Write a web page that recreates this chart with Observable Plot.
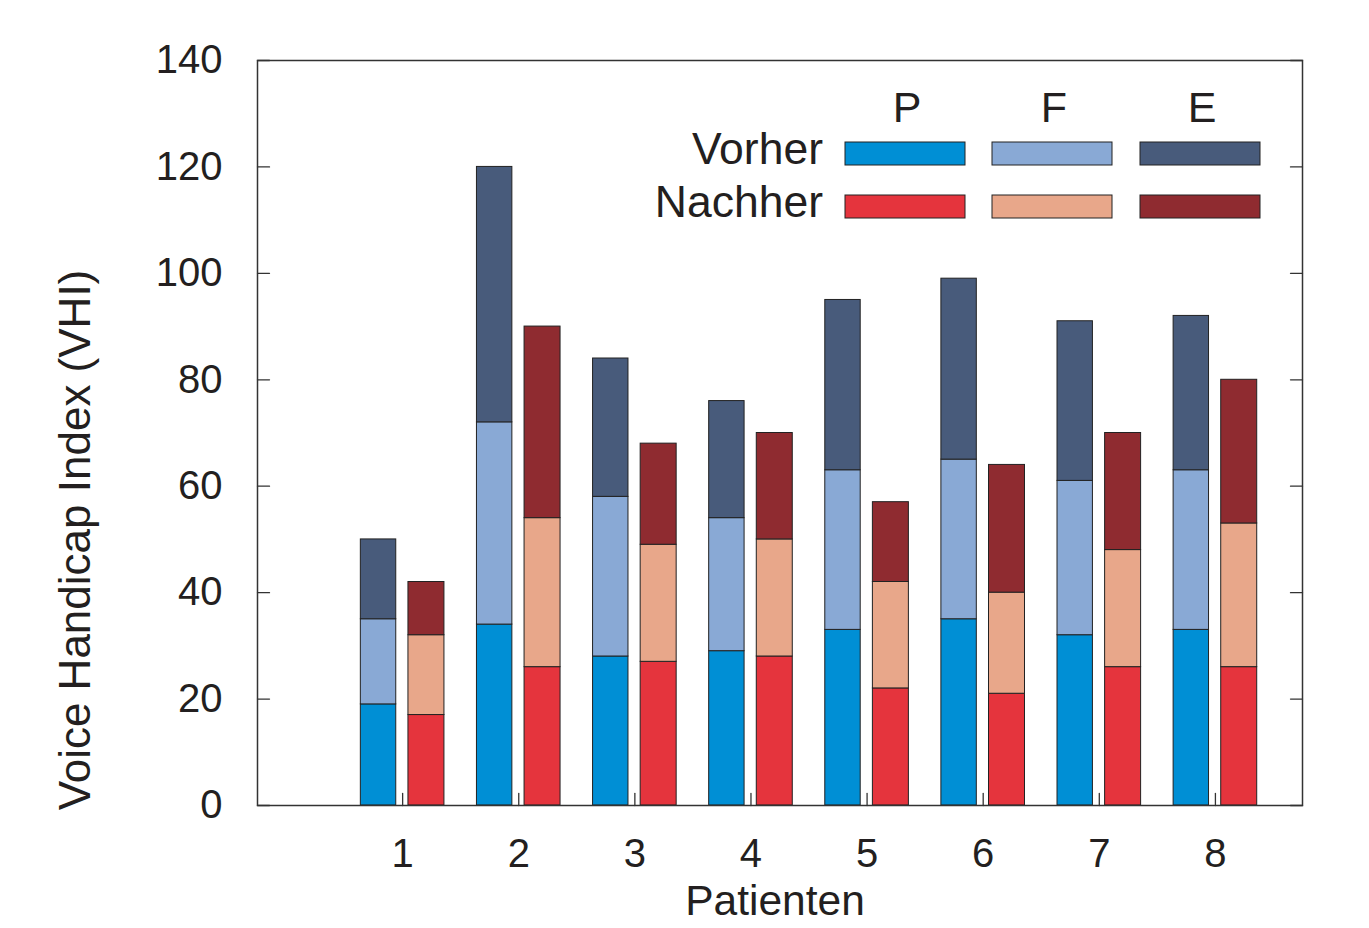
<!DOCTYPE html>
<html>
<head>
<meta charset="utf-8">
<script src="https://cdn.jsdelivr.net/npm/d3@7"></script>
<script src="https://cdn.jsdelivr.net/npm/@observablehq/plot@0.6"></script>
<style>
  body { margin: 0; background: #fff; }
  #chart { width: 1369px; height: 928px; overflow: hidden; }
</style>
</head>
<body>
<div id="chart"></div>
<script>
// ---- data ----
const patients = [1, 2, 3, 4, 5, 6, 7, 8];
const phases = ["Vorher", "Nachher"];
const components = ["P", "F", "E"];
const yTicks = [0, 20, 40, 60, 80, 100, 120, 140];

// component values (not cumulative)
const vorherP = [19, 34, 28, 29, 33, 35, 32, 33];
const vorherF = [16, 38, 30, 25, 30, 30, 29, 30];
const vorherE = [15, 48, 26, 22, 32, 34, 30, 29];
const nachherP = [17, 26, 27, 28, 22, 21, 26, 26];
const nachherF = [15, 28, 22, 22, 20, 19, 22, 27];
const nachherE = [10, 36, 19, 20, 15, 24, 22, 27];

const colorKeys = ["Vorher P", "Vorher F", "Vorher E", "Nachher P", "Nachher F", "Nachher E"];
const colorRange = ["#008fd5", "#89a9d5", "#485b7b", "#e5343d", "#e8a78a", "#8f2b30"];

const xTitle = "Patienten";
const yTitle = "Voice Handicap Index (VHI)";

// ---- build table ----
const values = {
  Vorher: { P: vorherP, F: vorherF, E: vorherE },
  Nachher: { P: nachherP, F: nachherF, E: nachherE }
};
const barOffset = { Vorher: [-0.36, -0.055], Nachher: [0.05, 0.36] };
const rows = [];
for (const phase of phases) {
  patients.forEach((p, i) => {
    let cum = 0;
    for (const c of components) {
      const v = values[phase][c][i];
      rows.push({
        patient: p, phase, comp: c, key: phase + " " + c,
        x1: p + barOffset[phase][0], x2: p + barOffset[phase][1],
        y1: cum, y2: cum + v
      });
      cum += v;
    }
  });
}

const font = "'Liberation Sans', Arial, Helvetica, sans-serif";
const ink = "#231f20";
const xDomain = [-0.25, 8.75];
const tickShape = { draw(context, l) { context.moveTo(0, 0); context.lineTo(0, -l); } };

const plot = Plot.plot({
  width: 1369,
  height: 928,
  marginLeft: 257,
  marginRight: 67,
  marginTop: 60,
  marginBottom: 123,
  style: { fontFamily: font, color: ink, background: "#fff", overflow: "visible" },
  x: { domain: xDomain },
  y: { domain: [0, 140] },
  color: { domain: colorKeys, range: colorRange },
  marks: [
    Plot.rect(rows, { x1: "x1", x2: "x2", y1: "y1", y2: "y2", fill: "key", stroke: "#222", strokeWidth: 1 }),
    Plot.axisY({ ticks: yTicks, tickSize: 0, tickPadding: 35, fontSize: 40, label: null, fill: ink }),
    Plot.axisX({ ticks: patients, tickSize: 0, tickPadding: 33, fontSize: 40, label: null, fill: ink, tickFormat: d3.format("d") }),
    // inward ticks
    Plot.vector(yTicks, { x: xDomain[0], y: d => d, length: 12, rotate: 90, anchor: "start", shape: tickShape, stroke: "#333", strokeWidth: 1.3 }),
    Plot.vector(yTicks, { x: xDomain[1], y: d => d, length: 12, rotate: -90, anchor: "start", shape: tickShape, stroke: "#333", strokeWidth: 1.3 }),
    Plot.vector(patients, { x: d => d, y: 0, length: 12, rotate: 0, anchor: "start", shape: tickShape, stroke: "#333", strokeWidth: 1.3 }),
    Plot.frame({ stroke: "#333", strokeWidth: 1.5 })
  ]
});

document.getElementById("chart").appendChild(plot);

const svg = d3.select(plot);

// ---- axis titles ----
svg.append("text")
  .attr("x", 775).attr("y", 915)
  .attr("text-anchor", "middle")
  .attr("font-family", font).attr("font-size", 42.5).attr("fill", ink)
  .text(xTitle);
svg.append("text")
  .attr("transform", "translate(90,540) rotate(-90)")
  .attr("text-anchor", "middle")
  .attr("font-family", font).attr("font-size", 44).attr("fill", ink)
  .text(yTitle);

// ---- legend (inside the plot area) ----
const color = plot.scale("color");
const lg = svg.append("g").attr("font-family", font).attr("fill", ink);
const colX = { P: 845, F: 992, E: 1140 };
const rectW = 120;
lg.selectAll("text.head").data(components).join("text")
  .attr("x", c => colX[c] + rectW / 2 + 2)
  .attr("y", 122)
  .attr("text-anchor", "middle")
  .attr("font-size", 43)
  .text(c => c);
const rowY = { Vorher: 142, Nachher: 195 };
const rowBase = { Vorher: 164, Nachher: 217 };
for (const phase of phases) {
  lg.append("text")
    .attr("x", 823)
    .attr("y", rowBase[phase])
    .attr("text-anchor", "end")
    .attr("font-size", 44.5)
    .text(phase);
  for (const c of components) {
    lg.append("rect")
      .attr("x", colX[c])
      .attr("y", rowY[phase])
      .attr("width", rectW)
      .attr("height", 23)
      .attr("fill", color.apply(phase + " " + c))
      .attr("stroke", "#222")
      .attr("stroke-width", 1);
  }
}
</script>
</body>
</html>
